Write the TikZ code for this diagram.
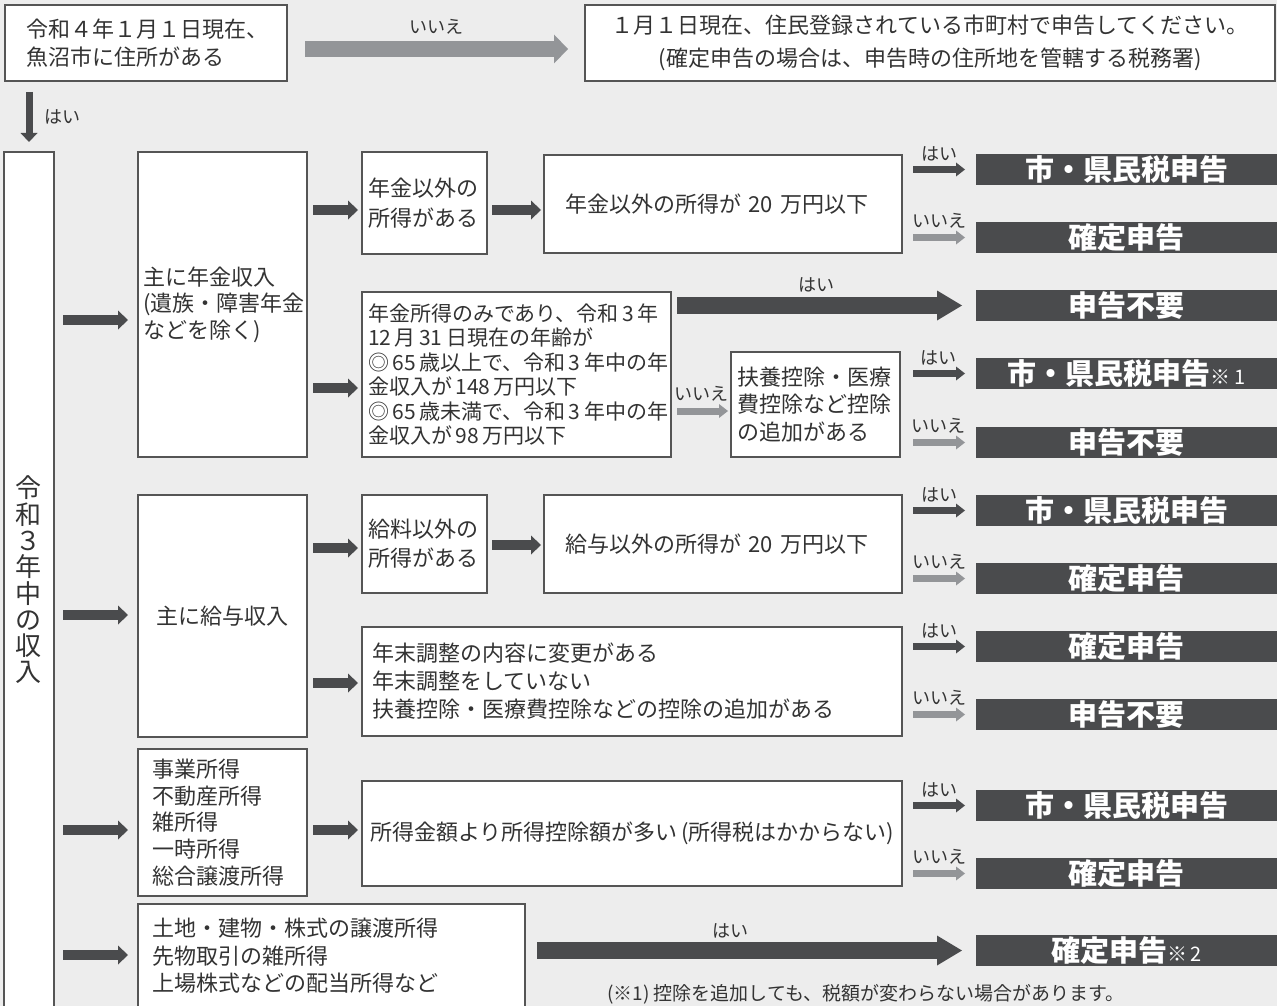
\documentclass[tikz,border=0pt]{standalone}
\usepackage{fontspec}
\newfontfamily\jp{Noto Sans CJK JP}
\usetikzlibrary{arrows.meta}
\definecolor{bgc}{HTML}{EDEDED}
\definecolor{linec}{HTML}{555555}
\definecolor{txtc}{HTML}{333333}
\definecolor{darkc}{HTML}{4A4B4D}
\definecolor{grayc}{HTML}{939598}
\tikzset{
  bx/.style={draw=linec, line width=1.2pt, fill=white, anchor=north west, inner sep=0pt, outer sep=0pt, text=txtc, font=\jp\fontsize{22}{27}\selectfont},
  bar/.style={fill=darkc, anchor=north west, inner sep=0pt, outer sep=0pt, minimum width=301pt, minimum height=31pt, text=white, font=\jp\bfseries\fontsize{29}{31}\selectfont},
  lbl/.style={text=txtc, inner sep=0pt, font=\jp\fontsize{18}{18}\selectfont},
  bigarr/.style={draw=darkc, line width=17pt, -{Triangle[length=25pt,width=30pt,line width=0pt]}},
  midarr/.style={draw=darkc, line width=10pt, -{Triangle[length=10pt,width=19pt,line width=0pt]}},
  sdark/.style={draw=darkc, line width=7pt, -{Triangle[length=9pt,width=14pt,line width=0pt]}},
  sgray/.style={draw=grayc, line width=7pt, -{Triangle[length=9pt,width=14pt,line width=0pt]}},
  toparr/.style={draw=grayc, line width=16pt, -{Triangle[length=14pt,width=29pt,line width=0pt]}},
  downarr/.style={draw=darkc, line width=7pt, -{Triangle[length=9pt,width=17pt,line width=0pt]}},
}
\begin{document}
\begin{tikzpicture}[x=1pt,y=-1pt]
\useasboundingbox (0,0) rectangle (1277,1006);
\fill[bgc] (0,0) rectangle (1277,1006);

% boxes
\node[bx, minimum width=282pt, minimum height=76pt, text width=238pt, align=left, font=\jp\fontsize{22}{28}\selectfont] (A) at (5,5) {令和４年１月１日現在、\\魚沼市に住所がある};
\node[bx, minimum width=690pt, minimum height=76pt, text width=660pt, align=center, font=\jp\fontsize{22}{33}\selectfont] (B) at (585,5) {１月１日現在、住民登録されている市町村で申告してください。\\(確定申告の場合は、申告時の住所地を管轄する税務署)};
\node[bx, minimum width=50pt, minimum height=856pt, align=center, font=\jp\fontsize{26}{26.3}\selectfont] (T) at (4,152) {令\\和\\３\\年\\中\\の\\収\\入};

\node[bx, minimum width=169pt, minimum height=305pt, text width=159pt, align=left, font=\jp\fontsize{22}{26.5}\selectfont] (P) at (138,152) {主に年金収入\\(遺族・障害年金\\などを除く)};
\node[bx, minimum width=125pt, minimum height=102pt, text width=113pt, align=left, font=\jp\fontsize{22}{30}\selectfont] (N1) at (362,152) {年金以外の\\所得がある};
\node[bx, minimum width=358pt, minimum height=98pt, text width=316pt, align=left] (T1) at (544,155) {年金以外の所得が 20 万円以下};
\node[bx, minimum width=309pt, minimum height=165pt, text width=297pt, align=left, font=\jp\fontsize{21}{24.4}\selectfont] (P2) at (362,292) {年金所得のみであり、令和\,3\,年\\12\,月\,31\,日現在の年齢が\\◎\,65\,歳以上で、令和\,3\,年中の年\\金収入が\,148\,万円以下\\◎\,65\,歳未満で、令和\,3\,年中の年\\金収入が\,98\,万円以下};
\node[bx, minimum width=169pt, minimum height=105pt, text width=157pt, align=left, font=\jp\fontsize{22}{27.5}\selectfont] (F) at (731,352) {扶養控除・医療\\費控除など控除\\の追加がある};

\node[bx, minimum width=169pt, minimum height=242pt, align=center] (S) at (138,495) {主に給与収入};
\node[bx, minimum width=125pt, minimum height=98pt, text width=113pt, align=left, font=\jp\fontsize{22}{29}\selectfont] (G1) at (362,495) {給料以外の\\所得がある};
\node[bx, minimum width=358pt, minimum height=98pt, text width=316pt, align=left] (G2) at (544,495) {給与以外の所得が 20 万円以下};
\node[bx, minimum width=540pt, minimum height=109pt, text width=520pt, align=left, font=\jp\fontsize{22}{28}\selectfont] (Y) at (362,627) {年末調整の内容に変更がある\\年末調整をしていない\\扶養控除・医療費控除などの控除の追加がある};

\node[bx, minimum width=169pt, minimum height=147pt, text width=141pt, align=left, font=\jp\fontsize{22}{26.8}\selectfont] (Bz) at (138,749) {事業所得\\不動産所得\\雑所得\\一時所得\\総合譲渡所得};
\node[bx, minimum width=540pt, minimum height=105pt, text width=524pt, align=left] (K) at (362,781) {\mbox{所得金額より所得控除額が多い\,(所得税はかからない)}};

\node[bx, minimum width=387pt, minimum height=104pt, text width=359pt, align=left, font=\jp\fontsize{22}{27.5}\selectfont] (L) at (138,904) {土地・建物・株式の譲渡所得\\先物取引の雑所得\\上場株式などの配当所得など};

% result bars
\node[bar] (r1) at (976,154) {市・県民税申告};
\node[bar] (r2) at (976,222) {確定申告};
\node[bar] (r3) at (976,290) {申告不要};
\node[bar] (r4) at (976,358) {市・県民税申告{\mdseries\fontsize{20}{20}\selectfont ※\,1}};
\node[bar] (r5) at (976,427) {申告不要};
\node[bar] (r6) at (976,495) {市・県民税申告};
\node[bar] (r7) at (976,563) {確定申告};
\node[bar] (r8) at (976,631) {確定申告};
\node[bar] (r9) at (976,699) {申告不要};
\node[bar] (r10) at (976,790) {市・県民税申告};
\node[bar] (r11) at (976,858) {確定申告};
\node[bar] (r12) at (976,935) {確定申告{\mdseries\fontsize{20}{20}\selectfont ※\,2}};

\node[lbl, anchor=north west, font=\jp\fontsize{19}{19}\selectfont] (note) at (607,984) {(※1) 控除を追加しても、税額が変わらない場合があります。};

% connectors
\draw[toparr, shorten <=18pt, shorten >=17pt] ([yshift=-6pt]A.east) -- ([yshift=-6pt]B.west) node[lbl, midway, yshift=22pt] {いいえ};
\draw[downarr, shorten <=11pt, shorten >=10pt] (A.south -| T.north) -- (T.north) node[lbl, midway, xshift=33pt] {はい};

\draw[midarr, shorten <=9pt, shorten >=10pt] (T.east |- 0,320) -- (P.west |- 0,320);
\draw[midarr, shorten <=9pt, shorten >=10pt] (T.east |- 0,615) -- (S.west |- 0,615);
\draw[midarr, shorten <=9pt, shorten >=10pt] (T.east |- 0,830) -- (Bz.west |- 0,830);
\draw[midarr, shorten <=9pt, shorten >=10pt] (T.east |- 0,955) -- (L.west |- 0,955);

\draw[midarr, shorten <=6pt, shorten >=4pt] (P.east |- 0,210) -- (N1.west |- 0,210);
\draw[midarr, shorten <=5pt, shorten >=3pt] (N1.east |- 0,210) -- (T1.west |- 0,210);
\draw[midarr, shorten <=6pt, shorten >=4pt] (P.east |- 0,388) -- (P2.west |- 0,388);
\draw[midarr, shorten <=6pt, shorten >=4pt] (S.east |- 0,548) -- (G1.west |- 0,548);
\draw[midarr, shorten <=5pt, shorten >=3pt] (G1.east |- 0,545) -- (G2.west |- 0,545);
\draw[midarr, shorten <=6pt, shorten >=4pt] (S.east |- 0,683) -- (Y.west |- 0,683);
\draw[midarr, shorten <=6pt, shorten >=4pt] (Bz.east |- 0,830) -- (K.west |- 0,830);

\draw[bigarr, shorten <=6pt, shorten >=14pt] (P2.east |- r3.west) -- (r3.west) node[lbl, midway, yshift=21pt, xshift=-7pt] {はい};
\draw[sgray, shorten <=6pt, shorten >=3pt] (P2.east |- 0,411) -- (F.west |- 0,411) node[lbl, midway, yshift=17pt] {いいえ};
\draw[bigarr, shorten <=12pt, shorten >=14pt] (L.east |- r12.west) -- (r12.west) node[lbl, midway, yshift=20pt, xshift=-20pt] {はい};

\draw[sdark, shorten <=11pt, shorten >=11pt] (T1.east |- r1.west) -- (r1.west) node[lbl, midway, yshift=16pt] {はい};
\draw[sgray, shorten <=11pt, shorten >=11pt] (T1.east |- r2.west) -- (r2.west) node[lbl, midway, yshift=17pt] {いいえ};
\draw[sdark, shorten <=13pt, shorten >=11pt] (F.east |- r4.west) -- (r4.west) node[lbl, midway, yshift=16pt] {はい};
\draw[sgray, shorten <=13pt, shorten >=11pt] (F.east |- r5.west) -- (r5.west) node[lbl, midway, yshift=17pt] {いいえ};
\draw[sdark, shorten <=11pt, shorten >=11pt] (G2.east |- r6.west) -- (r6.west) node[lbl, midway, yshift=16pt] {はい};
\draw[sgray, shorten <=11pt, shorten >=11pt] (G2.east |- r7.west) -- (r7.west) node[lbl, midway, yshift=17pt] {いいえ};
\draw[sdark, shorten <=11pt, shorten >=11pt] (Y.east |- r8.west) -- (r8.west) node[lbl, midway, yshift=16pt] {はい};
\draw[sgray, shorten <=11pt, shorten >=11pt] (Y.east |- r9.west) -- (r9.west) node[lbl, midway, yshift=17pt] {いいえ};
\draw[sdark, shorten <=11pt, shorten >=11pt] (K.east |- r10.west) -- (r10.west) node[lbl, midway, yshift=16pt] {はい};
\draw[sgray, shorten <=11pt, shorten >=11pt] (K.east |- r11.west) -- (r11.west) node[lbl, midway, yshift=17pt] {いいえ};
\end{tikzpicture}
\end{document}
